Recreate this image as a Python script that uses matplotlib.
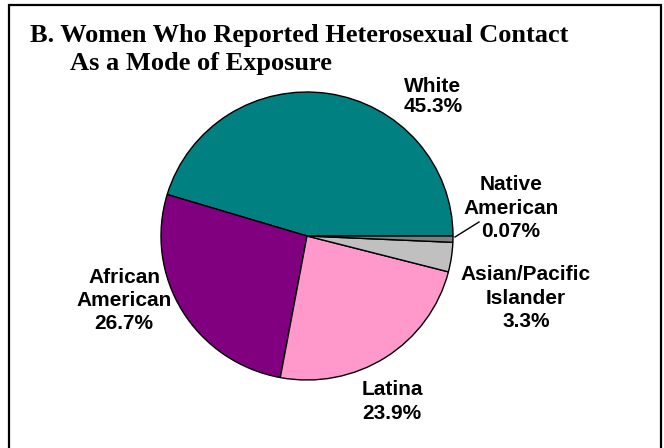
import matplotlib
matplotlib.use("Agg")
import matplotlib.pyplot as plt
from matplotlib.lines import Line2D
from matplotlib.patches import Rectangle

W, H = 664, 448

# slice data (counterclockwise from 3 o'clock)
groups = ["White", "African American", "Latina", "Asian/Pacific Islander", "Native American"]
shares = [45.3, 26.7, 23.9, 3.3, 0.7]
colors = ["#008080", "#800080", "#FF99CC", "#C0C0C0", "#808080"]

# label texts as printed on the chart
label_lines = [
    ["White", "45.3%"],
    ["African", "American", "26.7%"],
    ["Latina", "23.9%"],
    ["Asian/Pacific", "Islander", "3.3%"],
    ["Native", "American", "0.07%"],
]
# label anchor (centre x, first baseline y, line step) in pixels
label_pos = [
    (433, 92, 20),
    (124, 283, 23),
    (392, 395, 24),
    (526, 280, 23.5),
    (511, 190, 23.5),
]

title_1 = "B. Women Who Reported Heterosexual Contact"
title_2 = "As a Mode of Exposure"


def fx(x):
    return x / W


def fy(y):
    return 1 - y / H


fig = plt.figure(figsize=(W / 100, H / 100), dpi=100)

# pie centre (307, 236), slightly wider than tall like the original
cx, cy, rx, ry = 307, 236, 146, 144
ax = fig.add_axes([fx(cx - rx), fy(cy + ry), 2 * rx / W, 2 * ry / H])
ax.pie(shares, colors=colors, startangle=0, counterclock=True,
       wedgeprops=dict(edgecolor="black", linewidth=1.0))
ax.set_xlim(-1, 1)
ax.set_ylim(-1, 1)
ax.set_aspect("auto")
ax.axis("off")

for lines, (x, y0, step) in zip(label_lines, label_pos):
    for i, s in enumerate(lines):
        fig.text(fx(x), fy(y0 + i * step), s, ha="center", va="baseline",
                 fontsize=15, fontweight="bold", family="Liberation Sans")

# leader line for the tiny slice
fig.add_artist(Line2D([fx(455), fx(479)], [fy(237), fy(222)], color="black", lw=1))

fig.text(fx(30), fy(42), title_1, ha="left", va="baseline",
         fontsize=19, fontweight="bold", family="Liberation Serif")
fig.text(fx(70), fy(70), title_2, ha="left", va="baseline",
         fontsize=19, fontweight="bold", family="Liberation Serif")

# outer frame
fig.add_artist(Rectangle((fx(9), fy(450)), fx(661) - fx(9), fy(5) - fy(450),
                         transform=fig.transFigure, fill=False,
                         edgecolor="black", linewidth=1.6))

fig.savefig("out.png", dpi=100)
